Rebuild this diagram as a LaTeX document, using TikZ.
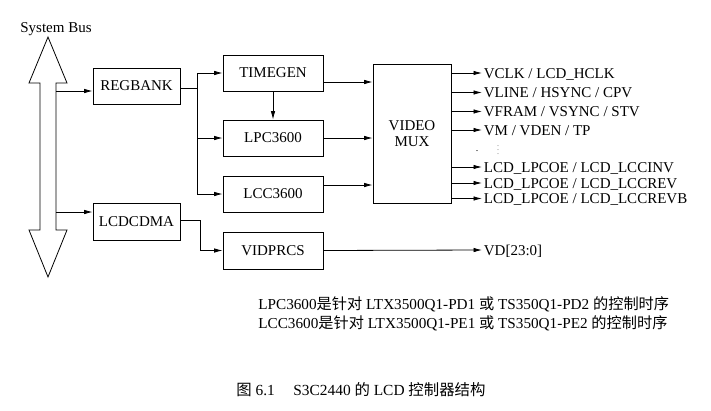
\documentclass[tikz,border=0pt]{standalone}
\usepackage{fontspec}
\setmainfont{Liberation Serif}
\newfontfamily\cjk{Noto Sans CJK SC}
\usetikzlibrary{arrows.meta}
\begin{document}
\begin{tikzpicture}[x=1pt,y=-1pt,
  font=\fontsize{15}{17}\selectfont,
  line width=0.8pt,
  box/.style={draw, inner sep=0pt, minimum width=87pt, minimum height=36pt},
  box2/.style={draw, inner sep=0pt, minimum width=100pt, minimum height=36pt},
  lab/.style={anchor=west, inner sep=1.5pt, text height=10pt, text depth=0pt},
  txt/.style={anchor=west, inner sep=0pt, text height=10pt, text depth=0pt},
  arr/.style={-{Latex[length=8.5pt,width=4.5pt]}}]
\useasboundingbox (0,0) rectangle (711,410);
\fill[white] (0,0) rectangle (711,410);

% system bus
\node[txt, anchor=center] (sysbus) at (56,27) {System Bus};
\draw[line join=miter] (48,37) -- (67,83) -- (56,83) -- (56,230) -- (67,230) -- (48,277)
  -- (29,230) -- (40,230) -- (40,83) -- (29,83) -- cycle;
\coordinate (b1) at (56,91);
\coordinate (b2) at (56,212);

% blocks
\node[box] (regbank) at (136.5,86) {REGBANK};
\node[box, minimum height=37pt] (lcdcdma) at (136.5,221.5) {LCDCDMA};
\node[box2] (timegen) at (273,73) {TIMEGEN};
\node[box2] (lpc) at (273,138) {LPC3600};
\node[box2] (lcc) at (273,194) {LCC3600};
\node[box2, minimum height=37pt] (vidprcs) at (273,250.5) {VIDPRCS};
\node[draw, inner sep=0pt, minimum width=78pt, minimum height=139pt, align=center] (mux) at (412,133.5) {VIDEO\\[-1pt]MUX};

% bus to blocks
\draw[arr] (b1) -- (b1 -| regbank.west);
\draw[arr] (b2) -- (b2 -| lcdcdma.west);

% regbank fan-out
\coordinate (j1) at (197,88);
\draw (regbank.east |- j1) -- (j1);
\draw (j1 |- timegen.west) -- (j1 |- lcc.west);
\draw[arr] (j1 |- timegen.west) -- (timegen.west);
\draw[arr] (j1 |- lpc.west) -- (lpc.west);
\draw[arr] (j1 |- lcc.west) -- (lcc.west);

% lcdcdma to vidprcs
\coordinate (j2) at (200,220);
\draw[arr] (lcdcdma.east |- j2) -- (j2) |- (vidprcs.west);

% timegen to lpc
\draw[arr] (timegen.south) -- (lpc.north);

% into mux
\coordinate (m1) at (0,82);
\coordinate (m3) at (0,185);
\draw[arr] (timegen.east |- m1) -- (mux.west |- m1);
\draw[arr] (lpc.east) -- (lpc.east -| mux.west);
\draw[arr] (lcc.east |- m3) -- (mux.west |- m3);

% outputs
\node[lab] (o1) at (482,73) {VCLK / LCD\_HCLK};
\node[lab] (o2) at (482,92.5) {VLINE / HSYNC / CPV};
\node[lab] (o3) at (482,111.5) {VFRAM / VSYNC / STV};
\node[lab] (o4) at (482,130) {VM / VDEN / TP};
\node[lab] (o5) at (482,167) {LCD\_LPCOE / LCD\_LCCINV};
\node[lab] (o6) at (482,183) {LCD\_LPCOE / LCD\_LCCREV};
\node[lab] (o7) at (482,198.5) {LCD\_LPCOE / LCD\_LCCREVB};
\foreach \o in {o1,o2,o3,o4,o5,o6,o7}
  \draw[arr] (mux.east |- \o.west) -- (\o.west);
\node[inner sep=0pt] (vdots) at (498,147) {\fontsize{6}{6}\selectfont$\vdots$};
\node[inner sep=0pt] (dot) at (477,151) {\fontsize{10}{10}\selectfont.};

\node[lab] (vd) at (482,250) {VD[23:0]};
\draw[arr] (vidprcs.east) -- (vd.west);

% notes
\node[txt, font=\fontsize{15.2}{17}\selectfont] (note1) at (258,304) {LPC3600{\cjk 是针对} LTX3500Q1-PD1 {\cjk 或} TS350Q1-PD2 {\cjk 的控制时序}};
\node[txt, font=\fontsize{15.2}{17}\selectfont] (note2) at (258,323) {\makebox[3.95em][l]{LCC3600}{\cjk 是针对} LTX3500Q1-PE1 {\cjk 或} TS350Q1-PE2 {\cjk 的控制时序}};

% caption
\node[txt, font=\fontsize{15.4}{17}\selectfont] (caption) at (236,390) {{\cjk 图} 6.1\hspace{1.2em}S3C2440 {\cjk 的} LCD {\cjk 控制器结构}};
\end{tikzpicture}
\end{document}
